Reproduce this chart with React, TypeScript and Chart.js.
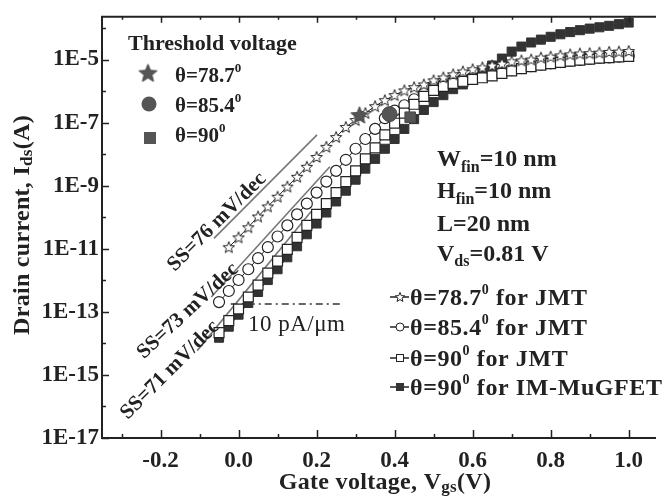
import React, { useEffect, useRef } from 'react';
import { Chart, registerables } from 'chart.js';
Chart.register(...registerables);

const FONT = "'Liberation Serif', 'Times New Roman', serif";

// Gate voltage grid (V)
const VGS = [-0.05, -0.025, 0, 0.025, 0.05, 0.075, 0.1, 0.125, 0.15, 0.175, 0.2, 0.225, 0.25, 0.275, 0.3, 0.325, 0.35, 0.375, 0.4, 0.425, 0.45, 0.475, 0.5, 0.525, 0.55, 0.575, 0.6, 0.625, 0.65, 0.675, 0.7, 0.725, 0.75, 0.775, 0.8, 0.825, 0.85, 0.875, 0.9, 0.925, 0.95, 0.975, 1.0];

// Drain current (A)
const JMT_787 = [null, 1.12e-11, 2.29e-11, 4.79e-11, 1.05e-10, 2.19e-10, 4.47e-10, 9.33e-10, 1.91e-9, 3.98e-9, 8.13e-9, 1.70e-8, 3.47e-8, 7.24e-8, 1.20e-7, 2.00e-7, 3.31e-7, 5.13e-7, 7.41e-7, 1.05e-6, 1.32e-6, 1.62e-6, 2.19e-6, 2.69e-6, 3.39e-6, 4.17e-6, 4.90e-6, 5.62e-6, 6.46e-6, 7.41e-6, 8.71e-6, 9.33e-6, 1.00e-5, 1.15e-5, 1.23e-5, 1.35e-5, 1.45e-5, 1.55e-5, 1.58e-5, 1.66e-5, 1.74e-5, 1.78e-5, 1.86e-5];
const JMT_854 = [2.04e-13, 4.57e-13, 1.02e-12, 2.24e-12, 5.01e-12, 1.12e-11, 2.45e-11, 5.50e-11, 1.23e-10, 2.69e-10, 6.03e-10, 1.35e-9, 2.95e-9, 6.61e-9, 1.48e-8, 3.02e-8, 6.31e-8, 1.38e-7, 2.40e-7, 3.55e-7, 5.50e-7, 8.51e-7, 1.32e-6, 1.62e-6, 2.04e-6, 2.34e-6, 2.69e-6, 2.95e-6, 3.31e-6, 3.89e-6, 4.57e-6, 5.37e-6, 6.17e-6, 6.92e-6, 7.59e-6, 8.32e-6, 9.12e-6, 9.77e-6, 1.05e-5, 1.12e-5, 1.17e-5, 1.23e-5, 1.29e-5];
const JMT_90 = [2.19e-14, 5.25e-14, 1.23e-13, 2.95e-13, 7.08e-13, 1.70e-12, 4.07e-12, 9.55e-12, 2.29e-11, 5.50e-11, 1.23e-10, 2.69e-10, 6.03e-10, 1.35e-9, 2.95e-9, 7.08e-9, 1.58e-8, 4.07e-8, 9.55e-8, 2.00e-7, 3.80e-7, 6.76e-7, 1.05e-6, 1.41e-6, 1.74e-6, 2.04e-6, 2.34e-6, 2.63e-6, 3.02e-6, 3.63e-6, 4.37e-6, 5.13e-6, 5.89e-6, 6.61e-6, 7.41e-6, 8.13e-6, 8.91e-6, 9.55e-6, 1.02e-5, 1.10e-5, 1.15e-5, 1.20e-5, 1.26e-5];
const IM_90 = [1.51e-14, 3.39e-14, 8.13e-14, 1.91e-13, 4.27e-13, 1.02e-12, 2.24e-12, 5.37e-12, 1.20e-11, 2.88e-11, 6.31e-11, 1.41e-10, 3.16e-10, 6.92e-10, 1.55e-9, 3.47e-9, 7.08e-9, 1.48e-8, 3.02e-8, 6.31e-8, 1.29e-7, 2.51e-7, 4.47e-7, 7.41e-7, 1.15e-6, 1.62e-6, 2.51e-6, 4.17e-6, 6.46e-6, 1.07e-5, 1.78e-5, 2.57e-5, 3.47e-5, 4.27e-5, 5.25e-5, 6.31e-5, 7.41e-5, 8.51e-5, 9.55e-5, 1.05e-4, 1.17e-4, 1.32e-4, 1.48e-4];

// Threshold voltage points (78.7, 85.4, 90 deg)
const TH_V = [0.31, 0.387, 0.44];
const TH_I = [1.74e-7, 1.86e-7, 1.48e-7];

// Subthreshold-slope guide lines
const SS76_X = [-0.063, 0.201];
const SS76_I = [2.14e-11, 4.07e-8];
const SS73_X = [-0.07, 0.234];
const SS73_I = [2.95e-13, 3.98e-9];
const SS71_X = [-0.106, 0.186];
const SS71_I = [5.89e-15, 1.51e-10];
// 10 pA/um level
const LEAK_X = [-0.02, 0.265];
const LEAK_I = [1.78e-13, 1.78e-13];

const X_TICKS = [-0.2, 0, 0.2, 0.4, 0.6, 0.8, 1.0];
const X_MINOR = [-0.3, -0.1, 0.1, 0.3, 0.5, 0.7, 0.9];
const Y_TICKS = [1e-17, 1e-15, 1e-13, 1e-11, 1e-9, 1e-7, 1e-5];
const Y_MINOR = [1e-16, 1e-14, 1e-12, 1e-10, 1e-8, 1e-6, 1e-4];
const X_MIN = -0.35, X_MAX = 1.07, Y_MIN = 1e-17, Y_MAX = 2.26e-4;

function starCanvas(outer: number, inner: number, fill: string, stroke: string, lw: number) {
  const size = Math.ceil(outer * 2 + lw * 2 + 2);
  const c = document.createElement('canvas');
  c.width = size; c.height = size;
  const g = c.getContext('2d')!;
  g.translate(size / 2, size / 2 + outer * 0.08);
  g.beginPath();
  for (let i = 0; i < 10; i++) {
    const r = i % 2 === 0 ? outer : inner;
    const a = -Math.PI / 2 + (i * Math.PI) / 5;
    g.lineTo(r * Math.cos(a), r * Math.sin(a));
  }
  g.closePath();
  g.fillStyle = fill; g.fill();
  if (lw > 0) { g.strokeStyle = stroke; g.lineWidth = lw; g.lineJoin = 'miter'; g.stroke(); }
  return c;
}

type Run = { t: string; size: number; dy?: number; weight?: string };
function setSpacing(ctx: any, px: number) { if ('letterSpacing' in ctx) ctx.letterSpacing = `${px}px`; }
function runsWidth(ctx: CanvasRenderingContext2D, runs: Run[]) {
  let w = 0;
  for (const r of runs) { ctx.font = `${r.weight ?? 'bold'} ${r.size}px ${FONT}`; w += ctx.measureText(r.t).width; }
  return w;
}
function drawRuns(ctx: CanvasRenderingContext2D, x: number, y: number, runs: Run[], align: 'left' | 'center' = 'left') {
  let cx = align === 'center' ? x - runsWidth(ctx, runs) / 2 : x;
  ctx.textAlign = 'left';
  for (const r of runs) {
    ctx.font = `${r.weight ?? 'bold'} ${r.size}px ${FONT}`;
    ctx.fillText(r.t, cx, y + (r.dy ?? 0));
    cx += ctx.measureText(r.t).width;
  }
}

function pts(xs: number[], ys: (number | null)[]) {
  const out: { x: number; y: number }[] = [];
  xs.forEach((x, i) => { const y = ys[i]; if (y != null) out.push({ x, y }); });
  return out;
}

export default function App() {
  const ref = useRef<HTMLCanvasElement>(null);
  useEffect(() => {
    const openStar = starCanvas(6, 2.6, '#ffffff', '#222222', 1);
    const thStar = starCanvas(9, 4, '#555555', '#444444', 1);
    const lgBigStar = starCanvas(9.5, 4.2, '#555555', '#444444', 1);
    const lgSmallStar = starCanvas(5, 2.2, '#ffffff', '#222222', 1);

    const axesPlugin = {
      id: 'axesDecor',
      afterDraw(chart: any) {
        const ctx: CanvasRenderingContext2D = chart.ctx;
        const { left, right, top, bottom } = chart.chartArea;
        const xs = chart.scales.x, ys = chart.scales.y;
        ctx.save();
        ctx.strokeStyle = '#222'; ctx.fillStyle = '#222';
        ctx.lineWidth = 2;
        ctx.beginPath();
        ctx.moveTo(left, top); ctx.lineTo(right, top);
        ctx.moveTo(left, top - 1); ctx.lineTo(left, bottom + 1);
        ctx.moveTo(left, bottom); ctx.lineTo(right, bottom);
        ctx.stroke();
        ctx.lineWidth = 1.5;
        ctx.beginPath();
        const tick = (vals: number[], lenB: number, lenT: number) => {
          for (const v of vals) {
            const px = Math.round(xs.getPixelForValue(v)) + 0.5;
            ctx.moveTo(px, bottom); ctx.lineTo(px, bottom - lenB);
            ctx.moveTo(px, top); ctx.lineTo(px, top + lenT);
          }
        };
        tick(X_TICKS, 8, 6); tick(X_MINOR, 4, 3);
        for (const v of Y_TICKS) { const py = Math.round(ys.getPixelForValue(v)) + 0.5; ctx.moveTo(left, py); ctx.lineTo(left + 7, py); }
        for (const v of Y_MINOR) { const py = Math.round(ys.getPixelForValue(v)) + 0.5; ctx.moveTo(left, py); ctx.lineTo(left + 4, py); }
        ctx.stroke();

        ctx.textBaseline = 'alphabetic';
        // axis titles
        setSpacing(ctx, 0.3);
        drawRuns(ctx, (left + right) / 2 + 6, 489, [
          { t: 'Gate voltage, V', size: 24 }, { t: 'gs', size: 17, dy: 3 }, { t: '(V)', size: 24 },
        ], 'center');
        ctx.save();
        ctx.translate(29, 225);
        ctx.rotate(-Math.PI / 2);
        drawRuns(ctx, 0, 0, [
          { t: 'Drain current, I', size: 24 }, { t: 'ds', size: 17, dy: 3 }, { t: '(A)', size: 24 },
        ], 'center');
        ctx.restore();
        setSpacing(ctx, 0);

        // threshold legend
        drawRuns(ctx, 128, 50, [{ t: 'Threshold voltage', size: 22 }]);
        ctx.drawImage(lgBigStar, 148 - lgBigStar.width / 2, 73 - lgBigStar.height / 2);
        ctx.fillStyle = '#555';
        ctx.beginPath(); ctx.arc(149, 104, 7.5, 0, Math.PI * 2); ctx.fill();
        ctx.fillRect(144, 132, 12, 12);
        ctx.fillStyle = '#222';
        const thRows: [string, number][] = [['78.7', 82], ['85.4', 112], ['90', 142]];
        for (const [v, y] of thRows) {
          drawRuns(ctx, 175, y, [{ t: `θ=${v}`, size: 21 }, { t: '0', size: 13, dy: -10 }]);
        }

        // device parameters
        drawRuns(ctx, 437, 166, [{ t: 'W', size: 24 }, { t: 'fin', size: 16, dy: 6 }, { t: '=10 nm', size: 24 }]);
        drawRuns(ctx, 437, 198, [{ t: 'H', size: 24 }, { t: 'fin', size: 16, dy: 6 }, { t: '=10 nm', size: 24 }]);
        drawRuns(ctx, 437, 231, [{ t: 'L=20 nm', size: 24 }]);
        drawRuns(ctx, 437, 261, [{ t: 'V', size: 24 }, { t: 'ds', size: 16, dy: 5 }, { t: '=0.81 V', size: 24 }]);

        // 10 pA/um
        setSpacing(ctx, 0.5);
        drawRuns(ctx, 248, 331, [{ t: '10 pA/μm', size: 23, weight: 'normal' }]);
        setSpacing(ctx, 0);

        // SS labels
        const ss: [string, number, number, number][] = [
          ['SS=76 mV/dec', 217, 222, -45],
          ['SS=73 mV/dec', 188, 311, -43],
          ['SS=71 mV/dec', 170, 370, -45],
        ];
        for (const [t, x, y, a] of ss) {
          ctx.save();
          ctx.translate(x, y);
          ctx.rotate((a * Math.PI) / 180);
          ctx.textBaseline = 'middle';
          drawRuns(ctx, 0, 0, [{ t, size: 21 }], 'center');
          ctx.restore();
        }

        // series legend
        const rows: [string, string, number][] = [
          ['78.7', ' for JMT', 305], ['85.4', ' for JMT', 335], ['90', ' for JMT', 366], ['90', ' for IM-MuGFET', 395],
        ];
        rows.forEach(([v, s, y], i) => {
          const my = y - 8;
          ctx.strokeStyle = '#222'; ctx.lineWidth = 1.5;
          ctx.beginPath(); ctx.moveTo(390, my); ctx.lineTo(409, my); ctx.stroke();
          ctx.lineWidth = 1;
          if (i === 0) ctx.drawImage(lgSmallStar, 400 - lgSmallStar.width / 2, my - lgSmallStar.height / 2);
          if (i === 1) { ctx.fillStyle = '#fff'; ctx.beginPath(); ctx.arc(400, my, 4, 0, Math.PI * 2); ctx.fill(); ctx.stroke(); }
          if (i === 2) { ctx.fillStyle = '#fff'; ctx.fillRect(396, my - 4, 8, 8); ctx.strokeRect(396.5, my - 3.5, 7, 7); }
          if (i === 3) { ctx.fillStyle = '#333'; ctx.fillRect(396, my - 4, 8, 8); }
          ctx.fillStyle = '#222';
          setSpacing(ctx, 0.6);
          drawRuns(ctx, 410, y, [{ t: `θ=${v}`, size: 24 }, { t: '0', size: 14, dy: -11 }, { t: s, size: 24 }]);
          setSpacing(ctx, 0);
        });
        ctx.restore();
      },
    };

    const tickFont = { family: FONT, size: 23, weight: 'bold' as const };
    const chart = new Chart(ref.current!, {
      type: 'line',
      data: {
        datasets: [
          { data: pts([TH_V[0]], [TH_I[0]]), showLine: false, pointStyle: thStar as any, pointRadius: 9, borderColor: '#444', backgroundColor: '#555' },
          { data: pts([TH_V[1]], [TH_I[1]]), showLine: false, pointStyle: 'circle', pointRadius: 7.5, borderColor: '#4a4a4a', backgroundColor: '#555', pointBorderWidth: 1 },
          { data: pts([TH_V[2]], [TH_I[2]]), showLine: false, pointStyle: 'rect', pointRadius: 7.5, borderColor: '#4a4a4a', backgroundColor: '#555', pointBorderWidth: 1 },
          { data: pts(VGS, JMT_787), borderColor: '#222', borderWidth: 1, pointStyle: openStar as any, pointRadius: 6 },
          { data: pts(VGS, JMT_90), borderColor: '#222', borderWidth: 1, pointStyle: 'rect', pointRadius: 7, pointBackgroundColor: '#fff', pointBorderColor: '#222', pointBorderWidth: 1.2 },
          { data: pts(VGS, IM_90), borderColor: '#222', borderWidth: 1, pointStyle: 'rect', pointRadius: 6.4, pointBackgroundColor: '#333', pointBorderColor: '#333', pointBorderWidth: 1 },
          { data: pts(VGS, JMT_854), borderColor: '#222', borderWidth: 1, pointStyle: 'circle', pointRadius: 5.5, pointBackgroundColor: '#fff', pointBorderColor: '#222', pointBorderWidth: 1.2 },
          { data: pts(SS76_X, SS76_I), borderColor: '#777', borderWidth: 1.6, pointRadius: 0 },
          { data: pts(SS73_X, SS73_I), borderColor: '#777', borderWidth: 1.6, pointRadius: 0 },
          { data: pts(SS71_X, SS71_I), borderColor: '#777', borderWidth: 1.6, pointRadius: 0 },
          { data: pts(LEAK_X, LEAK_I), borderColor: '#666', borderWidth: 2, borderDash: [7, 4, 2, 4], pointRadius: 0 },
        ] as any,
      },
      options: {
        animation: false,
        responsive: true,
        maintainAspectRatio: false,
        layout: { padding: { top: 14, right: 0, left: 0, bottom: 0 } },
        plugins: { legend: { display: false }, tooltip: { enabled: false } },
        elements: { line: { tension: 0, fill: false } },
        scales: {
          x: {
            type: 'linear', min: X_MIN, max: X_MAX,
            grid: { display: false, drawTicks: false }, border: { display: false },
            ticks: { font: tickFont, color: '#222', padding: 9, maxRotation: 0, autoSkip: false, callback: (v: any) => Number(v).toFixed(1) },
            afterBuildTicks: (s: any) => { s.ticks = X_TICKS.map((v) => ({ value: v })); },
            afterFit: (s: any) => { s.height = 61; },
          },
          y: {
            type: 'logarithmic', min: Y_MIN, max: Y_MAX,
            grid: { display: false, drawTicks: false }, border: { display: false },
            ticks: { font: tickFont, color: '#222', padding: 3, autoSkip: false, callback: (v: any) => '1E' + Math.round(Math.log10(Number(v))) },
            afterBuildTicks: (s: any) => { s.ticks = Y_TICKS.map((v) => ({ value: v })); },
            afterFit: (s: any) => { s.width = 102; },
          },
        },
      } as any,
      plugins: [axesPlugin],
    });
    return () => chart.destroy();
  }, []);
  return (
    <div style={{ position: 'absolute', left: 0, top: 0, width: 666, height: 499, background: '#fff' }}>
      <canvas ref={ref} />
    </div>
  );
}
